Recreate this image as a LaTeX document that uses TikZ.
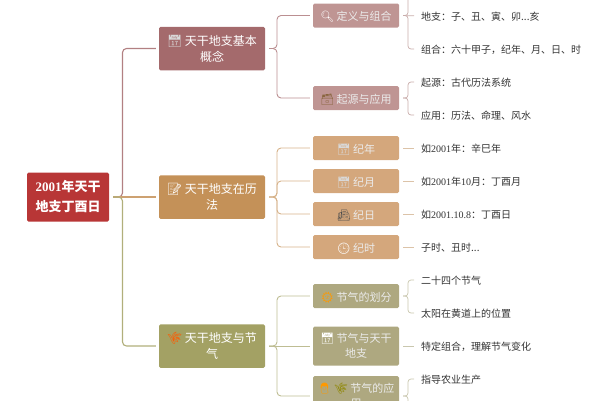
\documentclass[tikz,border=0pt]{standalone}
\usepackage{fontspec}
\setmainfont{Noto Sans CJK SC}
\newfontfamily\latinfont{Liberation Serif}
\newfontfamily\emojifont{Noto Emoji}
\newcommand{\lat}[1]{{\latinfont #1}}
\newcommand{\icon}[2]{\textcolor{#1}{\emojifont #2}}
\definecolor{rootred}{HTML}{B83636}
\definecolor{rosedark}{HTML}{A46A6C}
\definecolor{roselight}{HTML}{BF9593}
\definecolor{rosewire}{HTML}{C9ADAB}
\definecolor{tandark}{HTML}{C49158}
\definecolor{tanlight}{HTML}{D4A77C}
\definecolor{tanwire}{HTML}{DCC3A8}
\definecolor{olivedark}{HTML}{A3A164}
\definecolor{olivelight}{HTML}{AEA880}
\definecolor{olivewire}{HTML}{C9C7AE}
\tikzset{
  rootbox/.style={fill=rootred,text=white,rounded corners=1.5pt,minimum width=82pt,minimum height=49pt,
    inner sep=0pt,align=center,font=\fontsize{13}{20}\selectfont\bfseries},
  mainbox/.style={rounded corners=1.5pt,minimum width=106pt,minimum height=43.5pt,inner sep=0pt,
    align=center,text=white,font=\fontsize{12}{16}\selectfont},
  subbox/.style={rounded corners=1.5pt,minimum width=86pt,minimum height=24pt,inner sep=0pt,
    align=center,text=white!92!black,font=\fontsize{11}{15}\selectfont},
  oneline/.style={text height=12pt,text depth=1.6pt},
  leaf/.style={anchor=west,inner sep=0pt,text height=11pt,text depth=1.4pt,text=black!80,font=\fontsize{10}{12}\selectfont},
  mainlink/.style={line width=1.1pt,rounded corners=4pt,shorten <=4pt,shorten >=3pt},
  sublink/.style={line width=.9pt,rounded corners=4pt,shorten <=4pt,shorten >=3pt},
  leaflink/.style={line width=.7pt,rounded corners=3pt,shorten <=4pt,shorten >=7pt},
}
\begin{document}
\begin{tikzpicture}[x=1pt,y=-1pt]
    \useasboundingbox (0,0) rectangle (600,400);
    \clip (0,0) rectangle (600,400);
    % ------ root and main branches -----------------------------
    \node [rootbox] (root) at (68,197) {\lat{2001}年天干\\地支丁酉日};
    \node [mainbox,fill=rosedark] (basic) at (212,48.5) {\icon{white!85!black}{📅} 天干地支基本\\概念};
    \node [mainbox,fill=tandark] (calendar) at (212,197) {\icon{white}{📝} 天干地支在历\\法};
    \node [mainbox,fill=olivedark] (solar) at (212,346) {\icon{orange!70!red}{🌾} 天干地支与节\\气};
    \coordinate (rootfork) at (122.5,197);
    \draw [mainlink,rosedark!85!white] (root.east) -- (rootfork) |- (basic.west);
    \draw [mainlink,tandark!85!white] (root.east) -- (calendar.west);
    \draw [mainlink,olivedark!85!white] (root.east) -- (rootfork) |- (solar.west);
    % ------ second level -----------------------------
    \node [subbox,oneline,fill=roselight] (define) at (356,15.5) {\icon{white}{🔍} 定义与组合};
    \node [subbox,oneline,fill=roselight] (origin) at (356,98) {\icon{tandark!70!black}{🗃} 起源与应用};
    \node [subbox,oneline,fill=tanlight] (year) at (356,148) {\icon{white!85!black}{📅} 纪年};
    \node [subbox,oneline,fill=tanlight] (month) at (356,181) {\icon{white!85!black}{📅} 纪月};
    \node [subbox,oneline,fill=tanlight] (day) at (356,214) {\icon{black!70}{📠} 纪日};
    \node [subbox,oneline,fill=tanlight] (hour) at (356,247) {\icon{white}{🕒} 纪时};
    \node [subbox,oneline,fill=olivelight] (divide) at (356,296) {\icon{orange!80!yellow}{🌞} 节气的划分};
    \node [subbox,fill=olivelight,minimum height=39pt] (combine) at (356,346) {\icon{white}{📅} 节气与天干\\地支};
    \node [subbox,fill=olivelight,minimum height=40pt] (apply) at (356,396) {\icon{orange!80!yellow}{👨} \icon{olive}{🌾} 节气的应\\用};
    \coordinate (basicfork) at (277,48.5);
    \coordinate (calendarfork) at (277,197);
    \coordinate (solarfork) at (277,346);
    \draw [sublink,rosedark!75!white] (basic.east) -- (basicfork) |- (define.west);
    \draw [sublink,rosedark!75!white] (basic.east) -- (basicfork) |- (origin.west);
    \draw [sublink,tandark!70!white] (calendar.east) -- (calendarfork) |- (year.west);
    \draw [sublink,tandark!70!white] (calendar.east) -- (calendarfork) |- (month.west);
    \draw [sublink,tandark!70!white] (calendar.east) -- (calendarfork) |- (day.west);
    \draw [sublink,tandark!70!white] (calendar.east) -- (calendarfork) |- (hour.west);
    \draw [sublink,olivedark!70!white] (solar.east) -- (solarfork) |- (divide.west);
    \draw [sublink,olivedark!70!white] (solar.east) -- (combine.west);
    \draw [sublink,olivedark!70!white] (solar.east) -- (solarfork) |- (apply.west);
    % ------ leaves -----------------------------
    \node [leaf] (branches) at (421,16) {地支：子、丑、寅、卯...亥};
    \node [leaf] (cycle) at (421,49) {组合：六十甲子，纪年、月、日、时};
    \node [leaf] (ancient) at (421,82) {起源：古代历法系统};
    \node [leaf] (usage) at (421,115) {应用：历法、命理、风水};
    \node [leaf] (yeartext) at (421,148) {如\lat{2001}年：辛巳年};
    \node [leaf] (monthtext) at (421,181) {如\lat{2001}年\lat{10}月：丁酉月};
    \node [leaf] (daytext) at (421,214) {如\lat{2001.10.8}：丁酉日};
    \node [leaf] (hourtext) at (421,247) {子时、丑时...};
    \node [leaf] (terms) at (421,280) {二十四个节气};
    \node [leaf] (ecliptic) at (421,313) {太阳在黄道上的位置};
    \node [leaf] (change) at (421,346) {特定组合，理解节气变化};
    \node [leaf] (farming) at (421,379) {指导农业生产};
    \coordinate (stemsend) at (421,-17);
    \coordinate (lastend) at (421,413);
    \coordinate (definefork) at (408,15.5);
    \coordinate (originfork) at (408,98);
    \coordinate (dividefork) at (408,296);
    \coordinate (applyfork) at (408,396);
    \draw [leaflink,rosewire] (define.east) -- (definefork) |- (stemsend);
    \draw [leaflink,rosewire] (define.east) -- (branches.west);
    \draw [leaflink,rosewire] (define.east) -- (definefork) |- (cycle.west);
    \draw [leaflink,rosewire] (origin.east) -- (originfork) |- (ancient.west);
    \draw [leaflink,rosewire] (origin.east) -- (originfork) |- (usage.west);
    \draw [leaflink,tanwire] (year.east) -- (yeartext.west);
    \draw [leaflink,tanwire] (month.east) -- (monthtext.west);
    \draw [leaflink,tanwire] (day.east) -- (daytext.west);
    \draw [leaflink,tanwire] (hour.east) -- (hourtext.west);
    \draw [leaflink,olivewire] (divide.east) -- (dividefork) |- (terms.west);
    \draw [leaflink,olivewire] (divide.east) -- (dividefork) |- (ecliptic.west);
    \draw [leaflink,olivewire] (combine.east) -- (change.west);
    \draw [leaflink,olivewire] (apply.east) -- (applyfork) |- (farming.west);
    \draw [leaflink,olivewire] (apply.east) -- (applyfork) |- (lastend);
\end{tikzpicture}
\end{document}
